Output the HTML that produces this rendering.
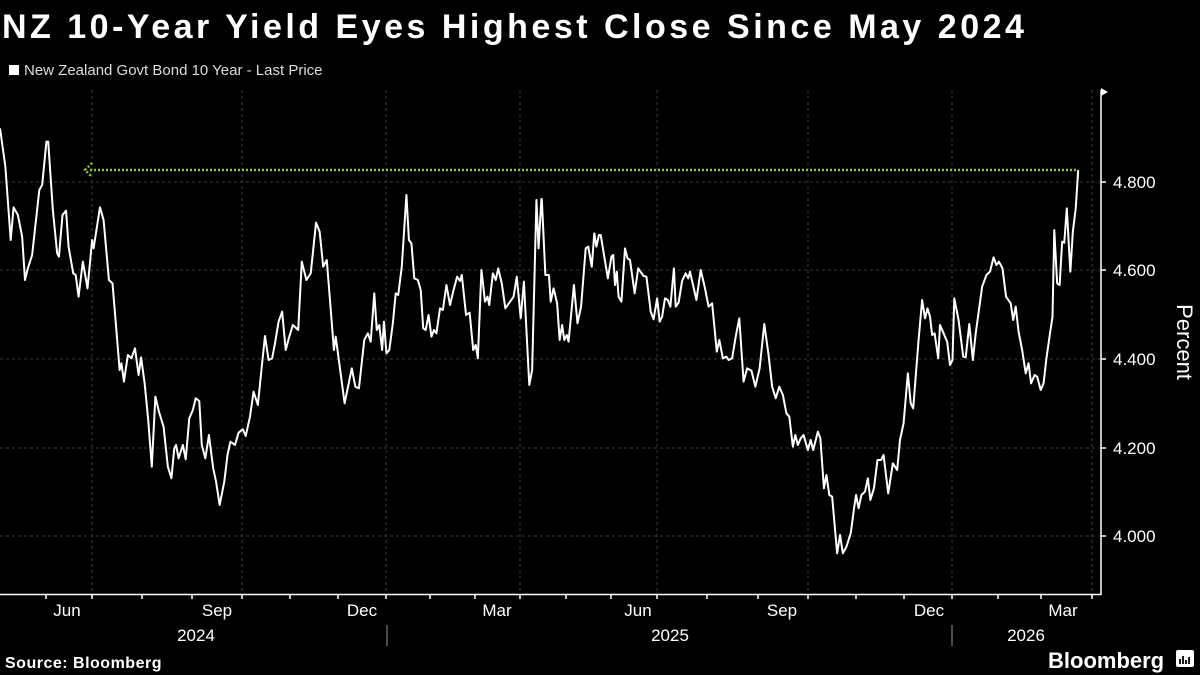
<!DOCTYPE html>
<html><head><meta charset="utf-8"><style>
html,body{margin:0;padding:0;background:#000;width:1200px;height:675px;overflow:hidden}
svg{display:block}
text{font-family:"Liberation Sans",sans-serif}
</style></head><body>
<svg width="1200" height="675" viewBox="0 0 1200 675" xmlns="http://www.w3.org/2000/svg">
<rect width="1200" height="675" fill="#000"/>
<text x="2" y="38" fill="#fff" font-size="34" font-weight="bold" letter-spacing="3.5">NZ 10-Year Yield Eyes Highest Close Since May 2024</text>
<rect x="9" y="65" width="10" height="10" fill="#fff"/>
<text x="24" y="75" fill="#ddd" font-size="15">New Zealand Govt Bond 10 Year - Last Price</text>
<g stroke="#3a3a3a" stroke-width="1" stroke-dasharray="3,3">
<line x1="0" y1="182" x2="1101" y2="182"/><line x1="0" y1="270" x2="1101" y2="270"/><line x1="0" y1="359" x2="1101" y2="359"/><line x1="0" y1="448" x2="1101" y2="448"/><line x1="0" y1="536" x2="1101" y2="536"/>
<line x1="92" y1="90" x2="92" y2="594"/><line x1="242" y1="90" x2="242" y2="594"/><line x1="386" y1="90" x2="386" y2="594"/><line x1="520" y1="90" x2="520" y2="594"/><line x1="657" y1="90" x2="657" y2="594"/><line x1="808" y1="90" x2="808" y2="594"/><line x1="952" y1="90" x2="952" y2="594"/><line x1="1092" y1="90" x2="1092" y2="594"/>
</g>
<g stroke="#fff" stroke-width="1.5" fill="none">
<line x1="1101" y1="90" x2="1101" y2="595"/><line x1="0" y1="594.5" x2="1101" y2="594.5"/>
<line x1="1101" y1="182" x2="1106" y2="182"/><line x1="1101" y1="270" x2="1106" y2="270"/><line x1="1101" y1="359" x2="1106" y2="359"/><line x1="1101" y1="448" x2="1106" y2="448"/><line x1="1101" y1="536" x2="1106" y2="536"/>
<path d="M46 594v5M92 594v5M142 594v5M192 594v5M242 594v5M290 594v5M338 594v5M386 594v5M430 594v5M475 594v5M520 594v5M566 594v5M611 594v5M657 594v5M707 594v5M758 594v5M808 594v5M856 594v5M904 594v5M952 594v5M998 594v5M1041 594v5M1092 594v5"/>
</g>
<path d="M1101 88 L1108 92 L1101 96 Z" fill="#fff"/>
<g stroke="#999" stroke-width="1"><line x1="387" y1="625" x2="387" y2="646"/><line x1="952" y1="625" x2="952" y2="646"/></g>
<g fill="#fff" font-size="17" text-anchor="middle">
<text x="67" y="616">Jun</text><text x="217" y="616">Sep</text><text x="362" y="616">Dec</text><text x="497" y="616">Mar</text><text x="638" y="616">Jun</text><text x="782" y="616">Sep</text><text x="929" y="616">Dec</text><text x="1063" y="616">Mar</text>
<text x="196" y="641">2024</text><text x="670" y="641">2025</text><text x="1026" y="641">2026</text>
</g>
<g fill="#fff" font-size="17">
<text x="1113" y="188">4.800</text><text x="1113" y="276">4.600</text><text x="1113" y="365">4.400</text><text x="1113" y="454">4.200</text><text x="1113" y="542">4.000</text>
</g>
<text transform="translate(1177,342) rotate(90)" fill="#fff" font-size="22" text-anchor="middle">Percent</text>
<line x1="90" y1="170" x2="1078" y2="170" stroke="#8fc23a" stroke-width="2.5" stroke-dasharray="2,2"/>
<path d="M92 163 L85 170 L92 177" stroke="#8fc23a" stroke-width="2.5" stroke-dasharray="2,2" fill="none"/>
<g fill="none" stroke="#fff" stroke-width="2" stroke-linejoin="round">
<polyline vector-effect="non-scaling-stroke" transform="translate(0,120) scale(0.35714,0.33333)" points="0,25 15,140 30,360 38,262 50,285 62,350 70,480 78,445 90,405 110,210 118,195 130,65 135,65 148,270 160,400 165,410 175,285 185,272 192,380 205,460 212,465 220,530 232,425 245,505 258,360 262,385 280,262 290,300 305,480 315,490 335,750 340,730 347,785 358,705 368,715 378,685 388,765 395,712 405,790 415,900 425,1040 435,830 445,875 458,920 470,1040 480,1075 488,985 493,975 500,1015 512,975 520,1018 530,895 540,870 548,835 558,843 565,975 575,1015 585,945 597,1045 605,1085 615,1155 628,1085 637,1005 645,965 658,975 668,938 680,928 688,948 700,890 710,815 722,855 732,750 742,648 752,720 762,715 770,670 780,605 790,575 800,690 810,650 820,615 835,630 845,425 858,480 870,460 885,308 895,335 905,440 915,420 935,690 940,650 950,730 965,850 985,745 995,800 1005,805 1020,660 1030,640 1038,665 1048,520 1055,630 1062,615 1070,690 1075,605 1082,700 1090,690 1100,610 1108,520 1115,525 1125,440 1138,225 1145,360 1152,370 1160,475 1170,480 1178,510 1185,625 1192,630 1200,585 1208,650 1215,630 1222,640 1232,565 1240,570 1250,495 1260,555 1270,510 1280,470 1288,483 1293,465 1305,585 1315,578 1325,690 1332,675 1338,715 1348,450 1358,545 1365,530 1370,555 1380,460 1388,480 1395,445 1405,490 1415,565 1425,550 1438,530 1447,470 1458,595 1467,485 1482,795 1490,750 1502,240 1508,385 1516,235"/>
<polyline vector-effect="non-scaling-stroke" transform="translate(540,120) scale(0.35714,0.33333)" points="5,235 15,465 25,465 30,545 38,505 48,550 55,660 62,615 68,660 75,645 80,665 95,495 105,610 115,560 128,385 135,380 145,440 152,340 158,380 165,345 170,345 190,475 200,410 205,405 210,495 215,455 220,530 228,545 238,385 245,415 252,420 265,520 275,445 290,468 298,470 310,575 318,598 328,535 335,605 342,590 350,535 358,540 365,560 375,445 380,560 388,548 398,482 408,460 415,475 420,455 438,540 450,450 462,505 472,560 482,550 495,695 502,660 512,715 522,710 528,720 538,715 548,650 558,595 570,785 580,745 592,752 603,800 615,745 628,612 640,705 650,800 660,835 670,800 680,825 690,880 698,890 708,980 715,945 722,975 730,955 738,945 750,990 758,960 765,990 778,935 785,955 795,1105 802,1065 810,1125 818,1130 832,1300 840,1245 848,1300 858,1280 870,1240 880,1160 885,1125 892,1165 900,1125 910,1115 918,1075 925,1140 935,1105 945,1020 955,1020 962,1005 975,1120 988,1030 1000,1050 1008,960 1018,910 1030,760 1038,850 1045,865 1060,660 1070,540 1078,595 1085,565 1092,590 1098,645 1105,640 1115,715 1120,615 1130,640 1140,665 1148,735 1155,720 1160,535 1172,600 1185,710 1192,712 1202,612 1212,720 1220,640 1238,500 1250,465 1260,455 1270,412 1278,435 1285,425 1295,445 1305,530 1318,550 1325,600 1332,560 1340,635 1350,690 1360,760 1368,730 1375,790 1385,765 1392,770 1402,810 1410,790 1418,715 1428,640 1435,590 1440,330 1448,490 1455,495 1462,365 1468,368 1475,265 1485,455 1492,335 1500,265 1507,150"/>
</g>
<text x="5" y="668" fill="#fff" font-size="16" font-weight="bold" letter-spacing="0.5">Source: Bloomberg</text>
<text x="1048" y="668" fill="#fff" font-size="22" font-weight="bold">Bloomberg</text>
<rect x="1176" y="650" width="18" height="17" rx="2" fill="#fff"/>
<path d="M1180 664v-5M1183 664v-8M1186 664v-4M1189 664v-7" stroke="#000" stroke-width="1.8"/>
</svg>
</body></html>
